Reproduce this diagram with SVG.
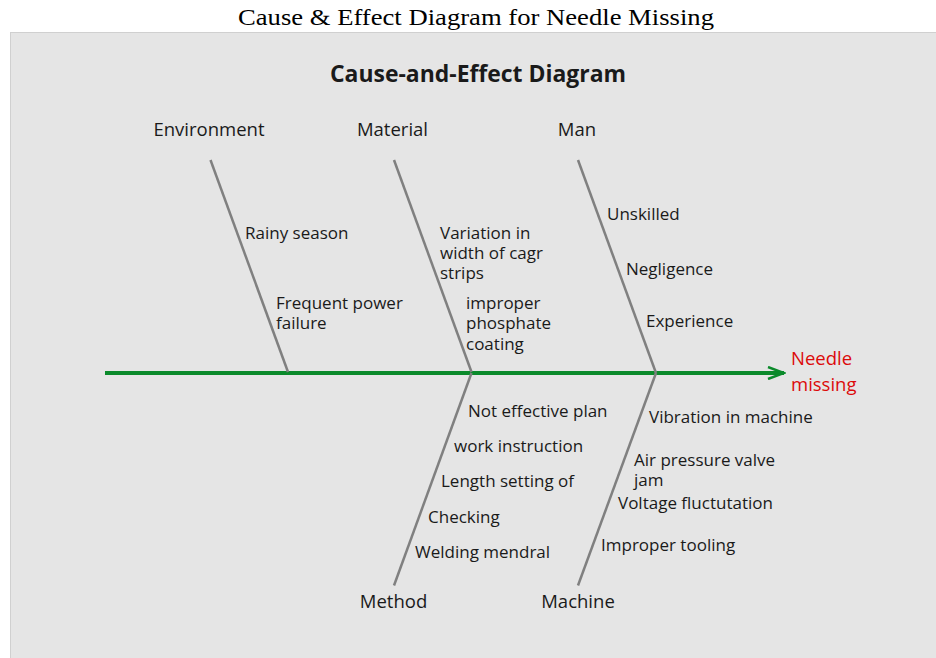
<svg xmlns="http://www.w3.org/2000/svg" width="936" height="658" viewBox="0 0 936 658">
<style>
.t{font-family:"Open Sans","Noto Sans",sans-serif;font-size:17px;fill:#1a1a1a}
.h{font-size:18.5px;text-anchor:middle}
.r{fill:#dc0a0a;font-size:18.5px}
.bone{stroke:#808080;stroke-width:2.5;fill:none}
</style>
<defs>
<marker id="arr" viewBox="0 0 20 14" refX="18" refY="7" markerWidth="20" markerHeight="14" markerUnits="userSpaceOnUse" orient="auto">
<path d="M2,1 L18,7 L2,13" fill="none" stroke="#0b8a2b" stroke-width="2.5"/>
</marker>
</defs>
<rect width="936" height="658" fill="#ffffff"/>
<text x="476" y="25" text-anchor="middle" font-family="'Liberation Serif',serif" font-size="23" textLength="476" lengthAdjust="spacingAndGlyphs" fill="#000">Cause &amp; Effect Diagram for Needle Missing</text>
<rect x="10.5" y="32.5" width="930" height="630" fill="#e5e5e5" stroke="#d0d0d0"/>
<text x="478" y="82" text-anchor="middle" font-family="'Open Sans','Noto Sans',sans-serif" font-weight="bold" font-size="23" textLength="296" lengthAdjust="spacingAndGlyphs" fill="#1a1a1a">Cause-and-Effect Diagram</text>
<g id="connectors">
<line x1="105" y1="373" x2="784" y2="373" stroke="#0b8a2b" stroke-width="4" marker-end="url(#arr)"/>
<line class="bone" x1="210.5" y1="160" x2="288" y2="372"/>
<line class="bone" x1="394" y1="160" x2="471.5" y2="372"/>
<line class="bone" x1="578" y1="160" x2="656" y2="373"/>
<line class="bone" x1="471.5" y1="373" x2="394" y2="585.5"/>
<line class="bone" x1="656" y1="373" x2="578" y2="585.5"/>
</g>
<g id="environment">
<text class="t h" x="209" y="136">Environment</text>
<text class="t" x="245" y="239">Rainy season</text>
<text class="t" x="276" y="309">Frequent power</text>
<text class="t" x="276" y="329">failure</text>
</g>
<g id="material">
<text class="t h" x="392.5" y="136">Material</text>
<text class="t" x="440" y="239">Variation in</text>
<text class="t" x="440" y="259">width of cagr</text>
<text class="t" x="440" y="279">strips</text>
<text class="t" x="466" y="309">improper</text>
<text class="t" x="466" y="329">phosphate</text>
<text class="t" x="466" y="350">coating</text>
</g>
<g id="man">
<text class="t h" x="577" y="136">Man</text>
<text class="t" x="607" y="220">Unskilled</text>
<text class="t" x="626" y="275">Negligence</text>
<text class="t" x="646" y="327">Experience</text>
</g>
<g id="effect">
<text class="t r" x="791" y="365">Needle</text>
<text class="t r" x="791" y="391">missing</text>
</g>
<g id="method">
<text class="t h" x="393.5" y="608">Method</text>
<text class="t" x="468" y="417">Not effective plan</text>
<text class="t" x="454" y="452">work instruction</text>
<text class="t" x="441" y="487">Length setting of</text>
<text class="t" x="428" y="523">Checking</text>
<text class="t" x="415" y="558">Welding mendral</text>
</g>
<g id="machine">
<text class="t h" x="578" y="608">Machine</text>
<text class="t" x="649" y="423">Vibration in machine</text>
<text class="t" x="634" y="466">Air pressure valve</text>
<text class="t" x="634" y="486">jam</text>
<text class="t" x="618" y="509">Voltage fluctutation</text>
<text class="t" x="601" y="551">Improper tooling</text>
</g>
</svg>
